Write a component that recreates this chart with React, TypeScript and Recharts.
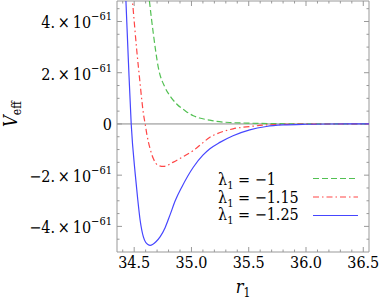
import React from 'react';
import {
  LineChart,
  Line,
  XAxis,
  YAxis,
  ReferenceLine,
  ReferenceArea,
  Legend,
} from 'recharts';

// values in units of 1e-61
const rGreen = [34.6, 34.633, 34.668, 34.711, 34.77, 34.82, 34.871, 34.95, 35.016, 35.07, 35.146, 35.219, 35.363, 35.509, 35.7, 36.0, 36.55];
const vGreen = [6.2, 4.8, 3.5, 2.2, 1.42, 1.05, 0.78, 0.5, 0.32, 0.23, 0.16, 0.1, 0.05, 0.03, 0.012, 0.004, 0];

const rRed = [34.46, 34.485, 34.523, 34.552, 34.567, 34.581, 34.596, 34.61, 34.639, 34.668, 34.711, 34.755, 34.842, 34.93, 35.016, 35.103, 35.161, 35.219, 35.363, 35.509, 35.654, 35.8, 36.0, 36.55];
const vRed = [6.1, 4.8, 2.85, 1.56, 0.91, 0.39, 0, -0.39, -0.97, -1.36, -1.62, -1.66, -1.49, -1.27, -1.04, -0.72, -0.52, -0.39, -0.19, -0.1, -0.04, -0.02, -0.006, 0];

const rBlue = [34.4, 34.428, 34.45, 34.474, 34.509, 34.53, 34.552, 34.581, 34.6, 34.62, 34.64, 34.66, 34.69, 34.726, 34.77, 34.813, 34.86, 34.915, 35.016, 35.1, 35.161, 35.248, 35.363, 35.509, 35.654, 35.8, 36.0, 36.2, 36.55];
const vBlue = [7.7, 4.8, 2.4, 0, -1.95, -2.9, -3.76, -4.42, -4.62, -4.71, -4.74, -4.71, -4.6, -4.41, -4.05, -3.55, -2.98, -2.47, -1.69, -1.22, -0.97, -0.72, -0.46, -0.23, -0.1, -0.04, -0.012, -0.003, 0];

const xTicks = [34.5, 35.0, 35.5, 36.0, 36.5];
const xMinor = [34.4, 34.6, 34.7, 34.8, 34.9, 35.1, 35.2, 35.3, 35.4, 35.6, 35.7, 35.8, 35.9, 36.1, 36.2, 36.3, 36.4];
const yTicks = [-4, -2, 0, 2, 4];
const yMinor = [-4.5, -3.5, -3, -2.5, -1.5, -1, -0.5, 0.5, 1, 1.5, 2.5, 3, 3.5, 4.5];

const series = [
  { name: 'λ₁ = −1', label: '−1', r: rGreen, v: vGreen, color: '#52c052', dash: '6 3' },
  { name: 'λ₁ = −1.15', label: '−1.15', r: rRed, v: vRed, color: '#ff4646', dash: '6 3 1.5 3' },
  { name: 'λ₁ = −1.25', label: '−1.25', r: rBlue, v: vBlue, color: '#4646ff', dash: undefined },
];

const X_DOMAIN = [34.35, 36.55];
const Y_DOMAIN = [-5, 4.8];
const txt = { fontFamily: 'DejaVu Serif', fontStretch: 'condensed', fill: '#000' };
const FRAME = '#999';

const toPoints = (r: number[], v: number[]) => r.map((x, i) => ({ r: x, v: v[i] }));

// ticks on both sides of the frame, pointing inwards
const vTick = (len: number) => (p: any) => {
  const top = Math.min(p.y1, p.y2);
  const bot = Math.max(p.y1, p.y2);
  return (
    <g>
      <line x1={p.x1} x2={p.x1} y1={bot} y2={bot - len} stroke={FRAME} />
      <line x1={p.x1} x2={p.x1} y1={top} y2={top + len} stroke={FRAME} />
    </g>
  );
};
const hTick = (len: number) => (p: any) => {
  const l = Math.min(p.x1, p.x2);
  const r = Math.max(p.x1, p.x2);
  return (
    <g>
      <line x1={l} x2={l + len} y1={p.y1} y2={p.y1} stroke={FRAME} />
      <line x1={r} x2={r - len} y1={p.y1} y2={p.y1} stroke={FRAME} />
    </g>
  );
};

const XTick = ({ x, y, payload }: any) => (
  <text x={x} y={y + 16} textAnchor="middle" fontSize={16} style={txt}>
    {payload.value.toFixed(1)}
  </text>
);

const YTick = ({ x, y, payload }: any) => {
  const v = payload.value;
  if (v === 0) {
    return (
      <text x={x - 5} y={y + 6} textAnchor="end" fontSize={16} style={txt}>0</text>
    );
  }
  const base = `${v < 0 ? '−' : ''}${Math.abs(v)}.\u2009×\u200910`;
  return (
    <text x={x - 5} y={y + 7} textAnchor="end" fontSize={16} style={txt}>
      <tspan>{base}</tspan>
      <tspan dy={-8} fontSize={11}>−61</tspan>
    </text>
  );
};

const XTitle = ({ viewBox }: any) => (
  <text x={viewBox.x + viewBox.width / 2} y={viewBox.y + 41} textAnchor="middle" fontSize={18} style={txt}>
    <tspan fontStyle="italic">r</tspan>
    <tspan dy={4} fontSize={12}>1</tspan>
  </text>
);

const YTitle = () => (
  <text x={17} y={114} transform="rotate(-90, 17, 114)" textAnchor="middle" fontSize={18} style={txt}>
    <tspan fontStyle="italic">V</tspan>
    <tspan dy={4} fontSize={12}>eff</tspan>
  </text>
);

const LegendBox = () => (
  <svg width={150} height={66} style={{ display: 'block' }}>
    {series.map((s, i) => (
      <g key={s.name}>
        <text x={0} y={20 + i * 17.5} fontSize={16} style={txt}>
          λ<tspan dy={4} fontSize={11}>1</tspan>
          <tspan dy={-4}>{` = ${s.label}`}</tspan>
        </text>
        <line x1={95} x2={140} y1={13.5 + i * 18.5} y2={13.5 + i * 18.5} stroke={s.color} strokeWidth={1.2} strokeDasharray={s.dash} />
      </g>
    ))}
  </svg>
);

export default function App() {
  return (
    <div style={{ position: 'absolute', left: 0, top: 0 }}>
      <LineChart width={382} height={301} margin={{ top: 1, right: 13, bottom: 0, left: 0 }}>
        <XAxis
          dataKey="r"
          type="number"
          domain={X_DOMAIN}
          allowDataOverflow
          ticks={xTicks}
          tick={<XTick />}
          tickLine={false}
          axisLine={false}
          tickSize={0}
          tickMargin={0}
          height={49}
          label={{ content: XTitle }}
        />
        <YAxis
          dataKey="v"
          type="number"
          domain={Y_DOMAIN}
          allowDataOverflow
          ticks={yTicks}
          tick={<YTick />}
          tickLine={false}
          axisLine={false}
          tickSize={0}
          tickMargin={0}
          width={117}
          label={{ content: YTitle }}
        />
        <ReferenceLine y={0} stroke="#888" strokeWidth={1} />
        {xTicks.map((t) => (
          <ReferenceLine key={'xM' + t} x={t} shape={vTick(5)} />
        ))}
        {xMinor.map((t) => (
          <ReferenceLine key={'xm' + t} x={t} shape={vTick(2.5)} />
        ))}
        {yTicks.map((t) => (
          <ReferenceLine key={'yM' + t} y={t} shape={hTick(5)} />
        ))}
        {yMinor.map((t) => (
          <ReferenceLine key={'ym' + t} y={t} shape={hTick(2.5)} />
        ))}
        {series.map((s) => (
          <Line
            key={s.name}
            data={toPoints(s.r, s.v)}
            dataKey="v"
            name={s.name}
            type="monotone"
            stroke={s.color}
            strokeWidth={1.2}
            strokeDasharray={s.dash}
            dot={false}
            activeDot={false}
            isAnimationActive={false}
          />
        ))}
        <ReferenceArea x1={X_DOMAIN[0]} x2={X_DOMAIN[1]} y1={Y_DOMAIN[0]} y2={Y_DOMAIN[1]} fill="none" stroke={FRAME} strokeWidth={1} />
        <Legend
          layout="vertical"
          align="center"
          verticalAlign="middle"
          content={<LegendBox />}
          wrapperStyle={{ left: 218, top: 165, width: 150 }}
        />
      </LineChart>
    </div>
  );
}
